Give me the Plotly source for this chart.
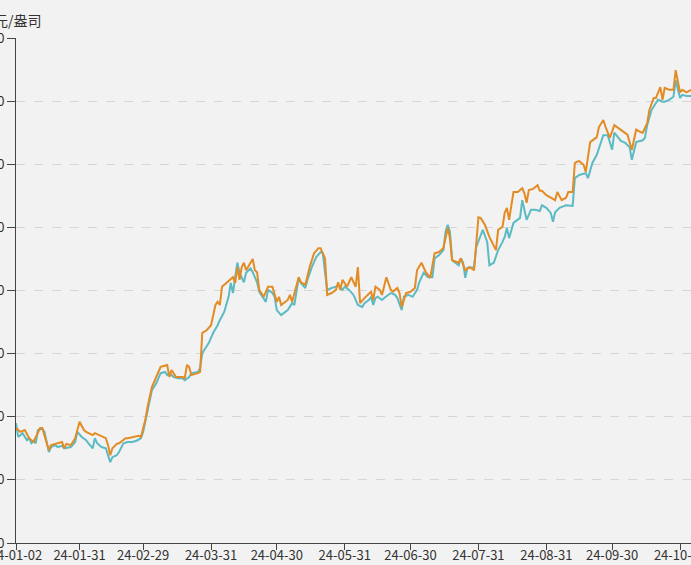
import plotly.graph_objects as go

unit_label = "美元/盎司"

tick_dates = ["2024-01-02", "2024-01-31", "2024-02-29", "2024-03-31", "2024-04-30",
              "2024-05-31", "2024-06-30", "2024-07-31", "2024-08-31", "2024-09-30",
              "2024-10-31"]
tick_labels = ["24-01-02", "24-01-31", "24-02-29", "24-03-31", "24-04-30",
               "24-05-31", "24-06-30", "24-07-31", "24-08-31", "24-09-30",
               "24-10-31"]
y_ticks = [1900, 2000, 2100, 2200, 2300, 2400, 2500, 2600, 2700]

teal_dates = [
    "2024-01-02", "2024-01-03", "2024-01-05", "2024-01-07", "2024-01-08", "2024-01-09",
    "2024-01-10", "2024-01-11", "2024-01-12", "2024-01-14", "2024-01-15", "2024-01-17",
    "2024-01-18", "2024-01-20", "2024-01-21", "2024-01-23", "2024-01-24", "2024-01-26",
    "2024-01-27", "2024-01-29", "2024-01-30", "2024-02-01", "2024-02-03", "2024-02-04",
    "2024-02-06", "2024-02-07", "2024-02-08", "2024-02-10", "2024-02-12", "2024-02-13",
    "2024-02-14", "2024-02-15", "2024-02-17", "2024-02-18", "2024-02-20", "2024-02-22",
    "2024-02-23", "2024-02-24", "2024-02-26", "2024-02-28", "2024-02-29", "2024-03-02",
    "2024-03-04", "2024-03-06", "2024-03-08", "2024-03-10", "2024-03-11", "2024-03-12",
    "2024-03-14", "2024-03-16", "2024-03-18", "2024-03-19", "2024-03-21", "2024-03-22",
    "2024-03-25", "2024-03-26", "2024-03-27", "2024-03-30", "2024-04-01", "2024-04-03",
    "2024-04-04", "2024-04-06", "2024-04-07", "2024-04-08", "2024-04-09", "2024-04-10",
    "2024-04-11", "2024-04-12", "2024-04-13", "2024-04-15", "2024-04-16", "2024-04-18",
    "2024-04-19", "2024-04-21", "2024-04-22", "2024-04-25", "2024-04-26", "2024-04-28",
    "2024-04-29", "2024-04-30", "2024-05-02", "2024-05-05", "2024-05-07", "2024-05-08",
    "2024-05-10", "2024-05-11", "2024-05-13", "2024-05-14", "2024-05-16", "2024-05-18",
    "2024-05-20", "2024-05-21", "2024-05-22", "2024-05-23", "2024-05-25", "2024-05-27",
    "2024-05-28", "2024-05-30", "2024-05-31", "2024-06-02", "2024-06-04", "2024-06-06",
    "2024-06-08", "2024-06-09", "2024-06-11", "2024-06-12", "2024-06-13", "2024-06-14",
    "2024-06-15", "2024-06-17", "2024-06-18", "2024-06-20", "2024-06-21", "2024-06-23",
    "2024-06-24", "2024-06-26", "2024-06-27", "2024-06-29", "2024-07-01", "2024-07-03",
    "2024-07-04", "2024-07-06", "2024-07-08", "2024-07-10", "2024-07-11", "2024-07-13",
    "2024-07-15", "2024-07-16", "2024-07-17", "2024-07-18", "2024-07-19", "2024-07-22",
    "2024-07-23", "2024-07-24", "2024-07-25", "2024-07-26", "2024-07-29", "2024-07-30",
    "2024-08-01", "2024-08-02", "2024-08-04", "2024-08-05", "2024-08-07", "2024-08-09",
    "2024-08-11", "2024-08-12", "2024-08-13", "2024-08-14", "2024-08-16", "2024-08-18",
    "2024-08-19", "2024-08-20", "2024-08-21", "2024-08-22", "2024-08-24", "2024-08-26",
    "2024-08-28", "2024-08-29", "2024-08-31", "2024-09-02", "2024-09-03", "2024-09-04",
    "2024-09-06", "2024-09-09", "2024-09-12", "2024-09-13", "2024-09-15", "2024-09-18",
    "2024-09-19", "2024-09-21", "2024-09-23", "2024-09-24", "2024-09-26", "2024-09-28",
    "2024-09-29", "2024-09-30", "2024-10-01", "2024-10-04", "2024-10-06", "2024-10-07",
    "2024-10-08", "2024-10-09", "2024-10-11", "2024-10-14", "2024-10-15", "2024-10-16",
    "2024-10-18", "2024-10-20", "2024-10-21", "2024-10-23", "2024-10-24", "2024-10-26",
    "2024-10-28", "2024-10-29", "2024-10-31", "2024-11-01", "2024-11-03", "2024-11-05",
]
teal_price = [
    2090, 2068, 2074, 2063, 2066, 2058,
    2062, 2058, 2079, 2081, 2076, 2044,
    2052, 2055, 2052, 2054, 2050, 2052,
    2052, 2060, 2076, 2068, 2063, 2058,
    2050, 2066, 2058, 2052, 2050, 2039,
    2028, 2036, 2039, 2044, 2058, 2060,
    2060, 2060, 2062, 2066, 2076, 2108,
    2142, 2153, 2169, 2171, 2166, 2169,
    2163, 2161, 2161, 2158, 2163, 2169,
    2171, 2177, 2201, 2217, 2233, 2245,
    2253, 2266, 2277, 2290, 2312, 2296,
    2321, 2344, 2328, 2313, 2328, 2335,
    2329, 2313, 2298, 2282, 2301, 2296,
    2290, 2269, 2261, 2269, 2280, 2277,
    2320, 2312, 2304, 2317, 2337, 2353,
    2361, 2359, 2329, 2301, 2304, 2306,
    2309, 2301, 2306, 2301, 2293, 2277,
    2274, 2280, 2285, 2290, 2277, 2288,
    2290, 2285, 2288, 2293, 2296, 2293,
    2288, 2269, 2290, 2293, 2290, 2301,
    2313, 2328, 2321, 2321, 2351, 2356,
    2364, 2393, 2404, 2393, 2348, 2340,
    2351, 2344, 2320, 2336, 2337, 2369,
    2388, 2396, 2377, 2340, 2344, 2364,
    2377, 2385, 2399, 2383, 2407, 2412,
    2415, 2443, 2428, 2412, 2428, 2428,
    2426, 2435, 2431, 2423, 2409, 2424,
    2431, 2435, 2434, 2478, 2483, 2486,
    2478, 2502, 2515, 2526, 2546, 2546,
    2535, 2523, 2550, 2537, 2534, 2531,
    2527, 2507, 2535, 2538, 2542, 2562,
    2586, 2597, 2602, 2599, 2599, 2602,
    2607, 2633, 2605, 2610, 2608, 2608,
]

orange_dates = [
    "2024-01-02", "2024-01-04", "2024-01-06", "2024-01-08", "2024-01-10", "2024-01-13",
    "2024-01-14", "2024-01-17", "2024-01-18", "2024-01-21", "2024-01-23", "2024-01-24",
    "2024-01-25", "2024-01-27", "2024-01-29", "2024-01-31", "2024-02-02", "2024-02-03",
    "2024-02-06", "2024-02-07", "2024-02-09", "2024-02-12", "2024-02-13", "2024-02-14",
    "2024-02-15", "2024-02-17", "2024-02-18", "2024-02-21", "2024-02-22", "2024-02-24",
    "2024-02-25", "2024-02-27", "2024-02-28", "2024-03-01", "2024-03-02", "2024-03-04",
    "2024-03-06", "2024-03-08", "2024-03-09", "2024-03-11", "2024-03-12", "2024-03-13",
    "2024-03-15", "2024-03-17", "2024-03-18", "2024-03-19", "2024-03-20", "2024-03-21",
    "2024-03-22", "2024-03-25", "2024-03-26", "2024-03-27", "2024-03-29", "2024-03-31",
    "2024-04-02", "2024-04-03", "2024-04-04", "2024-04-05", "2024-04-07", "2024-04-09",
    "2024-04-10", "2024-04-11", "2024-04-12", "2024-04-13", "2024-04-14", "2024-04-15",
    "2024-04-16", "2024-04-18", "2024-04-19", "2024-04-20", "2024-04-21", "2024-04-22",
    "2024-04-24", "2024-04-26", "2024-04-28", "2024-04-30", "2024-05-01", "2024-05-02",
    "2024-05-05", "2024-05-06", "2024-05-07", "2024-05-10", "2024-05-11", "2024-05-13",
    "2024-05-15", "2024-05-17", "2024-05-19", "2024-05-20", "2024-05-22", "2024-05-23",
    "2024-05-25", "2024-05-27", "2024-05-28", "2024-05-29", "2024-05-30", "2024-06-01",
    "2024-06-02", "2024-06-03", "2024-06-05", "2024-06-06", "2024-06-07", "2024-06-09",
    "2024-06-12", "2024-06-13", "2024-06-14", "2024-06-16", "2024-06-17", "2024-06-19",
    "2024-06-21", "2024-06-22", "2024-06-24", "2024-06-25", "2024-06-26", "2024-06-28",
    "2024-06-30", "2024-07-02", "2024-07-03", "2024-07-05", "2024-07-07", "2024-07-09",
    "2024-07-11", "2024-07-13", "2024-07-15", "2024-07-17", "2024-07-18", "2024-07-19",
    "2024-07-22", "2024-07-23", "2024-07-25", "2024-07-27", "2024-07-29", "2024-07-31",
    "2024-08-01", "2024-08-03", "2024-08-05", "2024-08-08", "2024-08-09", "2024-08-11",
    "2024-08-12", "2024-08-13", "2024-08-14", "2024-08-16", "2024-08-18", "2024-08-19",
    "2024-08-20", "2024-08-21", "2024-08-22", "2024-08-23", "2024-08-25", "2024-08-27",
    "2024-08-28", "2024-08-29", "2024-08-31", "2024-09-02", "2024-09-04", "2024-09-05",
    "2024-09-07", "2024-09-09", "2024-09-10", "2024-09-12", "2024-09-13", "2024-09-14",
    "2024-09-15", "2024-09-17", "2024-09-18", "2024-09-20", "2024-09-21", "2024-09-23",
    "2024-09-24", "2024-09-26", "2024-09-27", "2024-09-29", "2024-10-01", "2024-10-03",
    "2024-10-05", "2024-10-07", "2024-10-09", "2024-10-11", "2024-10-13", "2024-10-14",
    "2024-10-16", "2024-10-17", "2024-10-19", "2024-10-20", "2024-10-22", "2024-10-23",
    "2024-10-24", "2024-10-26", "2024-10-28", "2024-10-29", "2024-10-31", "2024-11-01",
    "2024-11-03", "2024-11-05",
]
orange_price = [
    2082, 2076, 2079, 2066, 2060, 2082,
    2082, 2047, 2055, 2058, 2060, 2050,
    2057, 2055, 2066, 2092, 2079, 2076,
    2071, 2074, 2071, 2066, 2055, 2039,
    2050, 2057, 2058, 2066, 2066, 2068,
    2068, 2070, 2068, 2095, 2115, 2147,
    2163, 2179, 2180, 2182, 2163, 2174,
    2163, 2163, 2163, 2161, 2182, 2179,
    2166, 2169, 2171, 2233, 2237, 2245,
    2277, 2282, 2277, 2306, 2312, 2317,
    2321, 2312, 2337, 2317, 2337, 2344,
    2332, 2344, 2350, 2332, 2329, 2301,
    2290, 2306, 2306, 2282, 2290, 2277,
    2285, 2293, 2282, 2321, 2313, 2309,
    2337, 2359, 2367, 2367, 2351, 2293,
    2296, 2301, 2313, 2301, 2317, 2306,
    2313, 2321, 2306, 2337, 2280, 2288,
    2298, 2285, 2306, 2301, 2293, 2321,
    2301, 2298, 2304, 2296, 2274, 2296,
    2298, 2304, 2332, 2344, 2329, 2320,
    2359, 2361, 2367, 2399, 2383, 2348,
    2344, 2351, 2332, 2337, 2332, 2416,
    2415, 2404, 2385, 2364, 2396, 2401,
    2423, 2431, 2412, 2456, 2456, 2459,
    2462, 2454, 2439, 2459, 2461, 2467,
    2458, 2458, 2451, 2447, 2443, 2456,
    2443, 2447, 2456, 2456, 2502, 2504,
    2505, 2499, 2488, 2535, 2538, 2543,
    2559, 2570, 2559, 2542, 2562, 2557,
    2553, 2547, 2523, 2555, 2551, 2550,
    2565, 2586, 2605, 2605, 2622, 2602,
    2621, 2618, 2618, 2649, 2614, 2618,
    2614, 2618,
]

W, H = 691, 565
ML, MR, MT, MB = 16, 0, 38, 22
plot_w = W - ML - MR
plot_h = H - MT - MB

fig = go.Figure()
fig.add_trace(go.Scatter(x=teal_dates, y=teal_price, mode="lines",
                         line=dict(color="#5bbac4", width=2), hoverinfo="skip"))
fig.add_trace(go.Scatter(x=orange_dates, y=orange_price, mode="lines",
                         line=dict(color="#e38b24", width=2), hoverinfo="skip"))

fig.update_layout(
    template="none",
    width=W, height=H,
    margin=dict(l=ML, r=MR, t=MT, b=MB, pad=0),
    paper_bgcolor="#f2f2f2", plot_bgcolor="#f2f2f2",
    showlegend=False,
    font=dict(family="Noto Sans CJK SC, Noto Sans, sans-serif", size=13, color="#333333"),
)
fig.update_xaxes(
    type="date", range=["2024-01-02", "2024-11-05"],
    tickmode="array", tickvals=tick_dates, ticktext=tick_labels,
    ticks="outside", ticklen=6, tickcolor="#444444", tickwidth=1,
    showline=True, linecolor="#444444", linewidth=1,
    showgrid=False, zeroline=False, automargin=False,
    ticklabeloverflow="allow", ticklabelstandoff=-6,
    tickfont=dict(size=13, color="#333333"),
)
fig.update_yaxes(
    range=[1900, 2700], tickmode="array", tickvals=y_ticks,
    ticks="outside", ticklen=8, tickcolor="#444444", tickwidth=1,
    showline=True, linecolor="#444444", linewidth=1,
    showgrid=True, gridcolor="#d6d6d6", griddash="dash", gridwidth=1,
    zeroline=False, automargin=False,
    ticklabeloverflow="allow",
    tickfont=dict(size=13, color="#333333"),
)
fig.add_annotation(
    text=unit_label, xref="paper", yref="paper",
    x=(44 - ML) / plot_w, y=(H - MB - 20) / plot_h,
    xanchor="right", yanchor="middle", showarrow=False,
    font=dict(size=14, color="#333333"),
)

fig.write_html("out.html")
